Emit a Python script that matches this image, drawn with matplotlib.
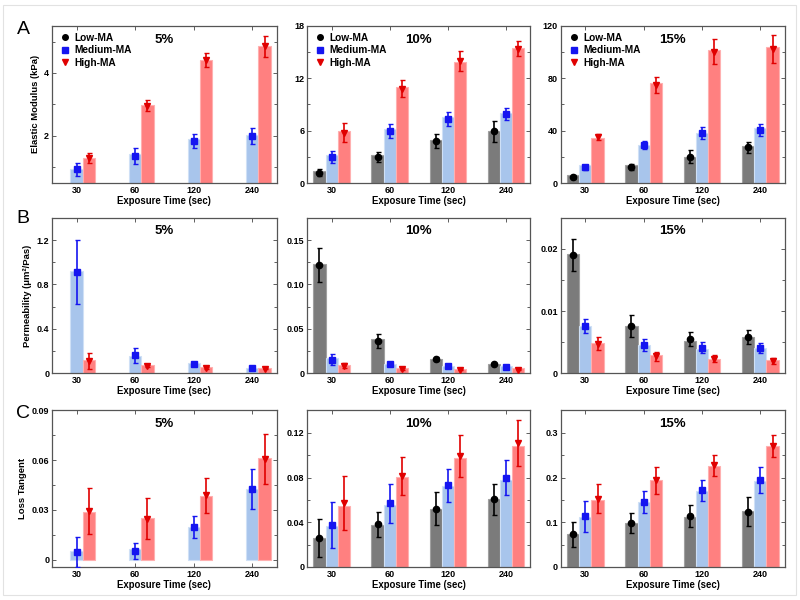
import numpy as np
import matplotlib
matplotlib.use("Agg")
import matplotlib.pyplot as plt
from matplotlib.lines import Line2D
from matplotlib.patches import Rectangle
from matplotlib.ticker import AutoMinorLocator, MultipleLocator

plt.rcParams['font.family'] = ['Liberation Sans', 'DejaVu Sans']

nan = np.nan
times = ['30', '60', '120', '240']
series = ['Low-MA', 'Medium-MA', 'High-MA']
concs = ['5%', '10%', '15%']

# rows: Low, Medium, High ; bar = bar height, pt = marker, err = half error bar
em5_bar = [[nan, nan, nan, nan], [0.93, 1.42, 1.89, 2.03], [1.30, 2.99, 4.42, 4.85]]
em5_pt = [[nan, nan, nan, nan], [0.93, 1.35, 1.84, 2.00], [1.30, 2.96, 4.42, 4.85]]
em5_err = [[nan, nan, nan, nan], [0.22, 0.25, 0.23, 0.25], [0.15, 0.17, 0.23, 0.33]]

em10_bar = [[1.42, 3.19, 4.96, 5.92], [3.19, 6.15, 7.6, 8.04], [5.92, 10.96, 13.9, 15.46]]
em10_pt = [[1.2, 2.96, 4.8, 5.9], [3.0, 6.0, 7.35, 7.9], [5.77, 10.8, 13.96, 15.4]]
em10_err = [[0.45, 0.6, 0.8, 1.15], [0.7, 0.8, 0.8, 0.7], [1.1, 0.95, 1.1, 0.9]]

em15_bar = [[6.2, 13.6, 20.0, 28.2], [13.6, 28.7, 38.5, 41.8], [34.1, 76.2, 101.5, 103.6]]
em15_pt = [[4.9, 12.3, 20.0, 27.2], [12.0, 29.0, 38.0, 40.3], [34.9, 74.6, 100.3, 102.3]]
em15_err = [[1.5, 2.3, 4.9, 4.0], [2.0, 3.2, 4.6, 4.4], [2.3, 6.0, 9.7, 11.0]]

pm5_bar = [[nan, nan, nan, nan], [0.923, 0.156, 0.093, 0.051], [0.117, 0.075, 0.057, 0.048]]
pm5_pt = [[nan, nan, nan, nan], [0.914, 0.162, 0.087, 0.051], [0.108, 0.066, 0.048, 0.042]]
pm5_err = [[nan, nan, nan, nan], [0.29, 0.067, 0.01, 0.005], [0.07, 0.008, 0.01, 0.005]]

pm10_bar = [[0.1234, 0.039, 0.0161, 0.0109], [0.0176, 0.0109, 0.0083, 0.0083], [0.009, 0.0056, 0.0045, 0.0053]]
pm10_pt = [[0.122, 0.0364, 0.0161, 0.0109], [0.0154, 0.0101, 0.0079, 0.0075], [0.0086, 0.0049, 0.0041, 0.0041]]
pm10_err = [[0.0195, 0.0075, 0.002, 0.001], [0.0066, 0.002, 0.0015, 0.0015], [0.0025, 0.001, 0.001, 0.001]]

pm15_bar = [[0.0192, 0.00767, 0.00525, 0.0058], [0.00756, 0.00456, 0.0039, 0.004], [0.0048, 0.0029, 0.00236, 0.0021]]
pm15_pt = [[0.019, 0.00756, 0.0055, 0.00584], [0.00756, 0.0045, 0.0041, 0.0041], [0.00477, 0.0027, 0.00236, 0.002]]
pm15_err = [[0.0026, 0.0018, 0.0011, 0.0011], [0.0011, 0.001, 0.0009, 0.0008], [0.001, 0.0007, 0.0005, 0.0005]]

lt5_bar = [[nan, nan, nan, nan], [0.0052, 0.0063, 0.0198, 0.0424], [0.0286, 0.0248, 0.0383, 0.0615]]
lt5_pt = [[nan, nan, nan, nan], [0.0046, 0.0052, 0.0194, 0.0424], [0.0293, 0.0246, 0.0387, 0.0607]]
lt5_err = [[nan, nan, nan, nan], [0.009, 0.0047, 0.0067, 0.012], [0.014, 0.0123, 0.0108, 0.0152]]

lt10_bar = [[0.0257, 0.0377, 0.0518, 0.0607], [0.0371, 0.0554, 0.0724, 0.0781], [0.0545, 0.0802, 0.0978, 0.1086]]
lt10_pt = [[0.026, 0.038, 0.052, 0.0604], [0.0374, 0.0569, 0.073, 0.080], [0.057, 0.0814, 0.0993, 0.1107]]
lt10_err = [[0.017, 0.0115, 0.0148, 0.014], [0.0205, 0.0175, 0.0148, 0.016], [0.024, 0.0166, 0.0187, 0.0204]]

lt15_bar = [[0.0735, 0.0983, 0.1118, 0.1245], [0.1125, 0.1455, 0.1688, 0.1928], [0.1508, 0.195, 0.2258, 0.2715]]
lt15_pt = [[0.0735, 0.0975, 0.114, 0.1238], [0.1133, 0.1455, 0.1718, 0.1943], [0.1523, 0.1935, 0.2273, 0.27]]
lt15_err = [[0.028, 0.0225, 0.0244, 0.0326], [0.034, 0.024, 0.0236, 0.0289], [0.0323, 0.03, 0.024, 0.025]]

bar_col = ['#7b7b7b', '#a8c5ec', '#ff8080']
edge_col = ['#a0a0a0', '#cfe0f6', '#ffb0b0']
pt_col = ['black', '#1515f0', '#e00000']
markers = ['o', 's', 'v']

panels = [
    [(em5_bar, em5_pt, em5_err), (em10_bar, em10_pt, em10_err), (em15_bar, em15_pt, em15_err)],
    [(pm5_bar, pm5_pt, pm5_err), (pm10_bar, pm10_pt, pm10_err), (pm15_bar, pm15_pt, pm15_err)],
    [(lt5_bar, lt5_pt, lt5_err), (lt10_bar, lt10_pt, lt10_err), (lt15_bar, lt15_pt, lt15_err)],
]
ylims = [[(0.5, 5.5), (0, 18), (0, 120)],
         [(0, 1.4), (0, 0.175), (0, 0.025)],
         [(-0.0045, 0.09), (0, 0.14), (0, 0.35)]]
yticks = [[[2, 4], [0, 6, 12, 18], [0, 40, 80, 120]],
          [[0, 0.4, 0.8, 1.2], [0, 0.05, 0.10, 0.15], [0, 0.01, 0.02]],
          [[0, 0.03, 0.06, 0.09], [0, 0.04, 0.08, 0.12], [0, 0.1, 0.2, 0.3]]]
yticklabels = [[['2', '4'], ['0', '6', '12', '18'], ['0', '40', '80', '120']],
               [['0', '0.4', '0.8', '1.2'], ['0', '0.05', '0.10', '0.15'], ['0', '0.01', '0.02']],
               [['0', '0.03', '0.06', '0.09'], ['0', '0.04', '0.08', '0.12'], ['0', '0.1', '0.2', '0.3']]]
ylabels = ['Elastic Modulus (kPa)', 'Permeability (μm²/Pas)', 'Loss Tangent']
letters = ['A', 'B', 'C']
letter_y = [1.03, 1.05, 1.035]

fig = plt.figure(figsize=(8, 6), dpi=100)
fig.patches.append(Rectangle((3 / 800, 5 / 600), 793 / 800, 590 / 600, transform=fig.transFigure,
                             fill=False, edgecolor='#e2e2e2', lw=0.8))

row_b = [0.695, 0.378, 0.055]
row_h = [0.262, 0.259, 0.261]
col_l = [0.065, 0.384, 0.701]
col_w = [0.281, 0.279, 0.280]

x = np.arange(4)
w = 0.21
for r in range(3):
    for c in range(3):
        ax = fig.add_axes([col_l[c], row_b[r], col_w[c], row_h[r]])
        bars, pts, errs = panels[r][c]
        for s in range(3):
            xs = x + (s - 1) * w
            ax.bar(xs, bars[s], width=w, color=bar_col[s], edgecolor=edge_col[s], lw=0.8, zorder=2)
            ax.errorbar(xs, pts[s], yerr=errs[s], fmt=markers[s], color=pt_col[s], ms=4.5,
                        elinewidth=1.2, capsize=1.8, capthick=1.0, zorder=3)
        ax.set_xlim(-0.42, 3.42)
        ax.set_ylim(*ylims[r][c])
        ax.set_xticks(x)
        ax.set_xticklabels(times, fontsize=6.5, fontweight='bold')
        ax.set_yticks(yticks[r][c])
        ax.set_yticklabels(yticklabels[r][c], fontsize=6.5, fontweight='bold')
        if r == 0 and c == 0:
            ax.yaxis.set_minor_locator(MultipleLocator(1))
        else:
            ax.yaxis.set_minor_locator(AutoMinorLocator(2))
        ax.tick_params(which='both', direction='in', top=True, right=True, length=3, width=0.6, pad=2,
                       color='#444444')
        ax.tick_params(which='minor', length=2)
        for sp in ax.spines.values():
            sp.set_color('#555555')
            sp.set_linewidth(0.9)
        ax.set_xlabel('Exposure Time (sec)', fontsize=6.9, fontweight='bold', labelpad=1)
        if c == 0:
            ax.set_ylabel(ylabels[r], fontsize=6.8, fontweight='bold', labelpad=3)
            ax.text(-0.158, letter_y[r], letters[r], transform=ax.transAxes, fontsize=14,
                    va='top', ha='left')
        ax.text(0.5, 0.912, concs[c], transform=ax.transAxes, fontsize=9.5, fontweight='bold',
                ha='center', va='center')
        if r == 0:
            handles = [Line2D([], [], ls='none', marker=markers[s], color=pt_col[s], ms=4)
                       for s in range(3)]
            ax.legend(handles, series, loc='upper left', frameon=False, handletextpad=0.3,
                      borderaxespad=0.3, labelspacing=0.25, handlelength=1.2,
                      prop={'size': 7.3, 'weight': 'bold'})

fig.savefig('out.png', dpi=100)
